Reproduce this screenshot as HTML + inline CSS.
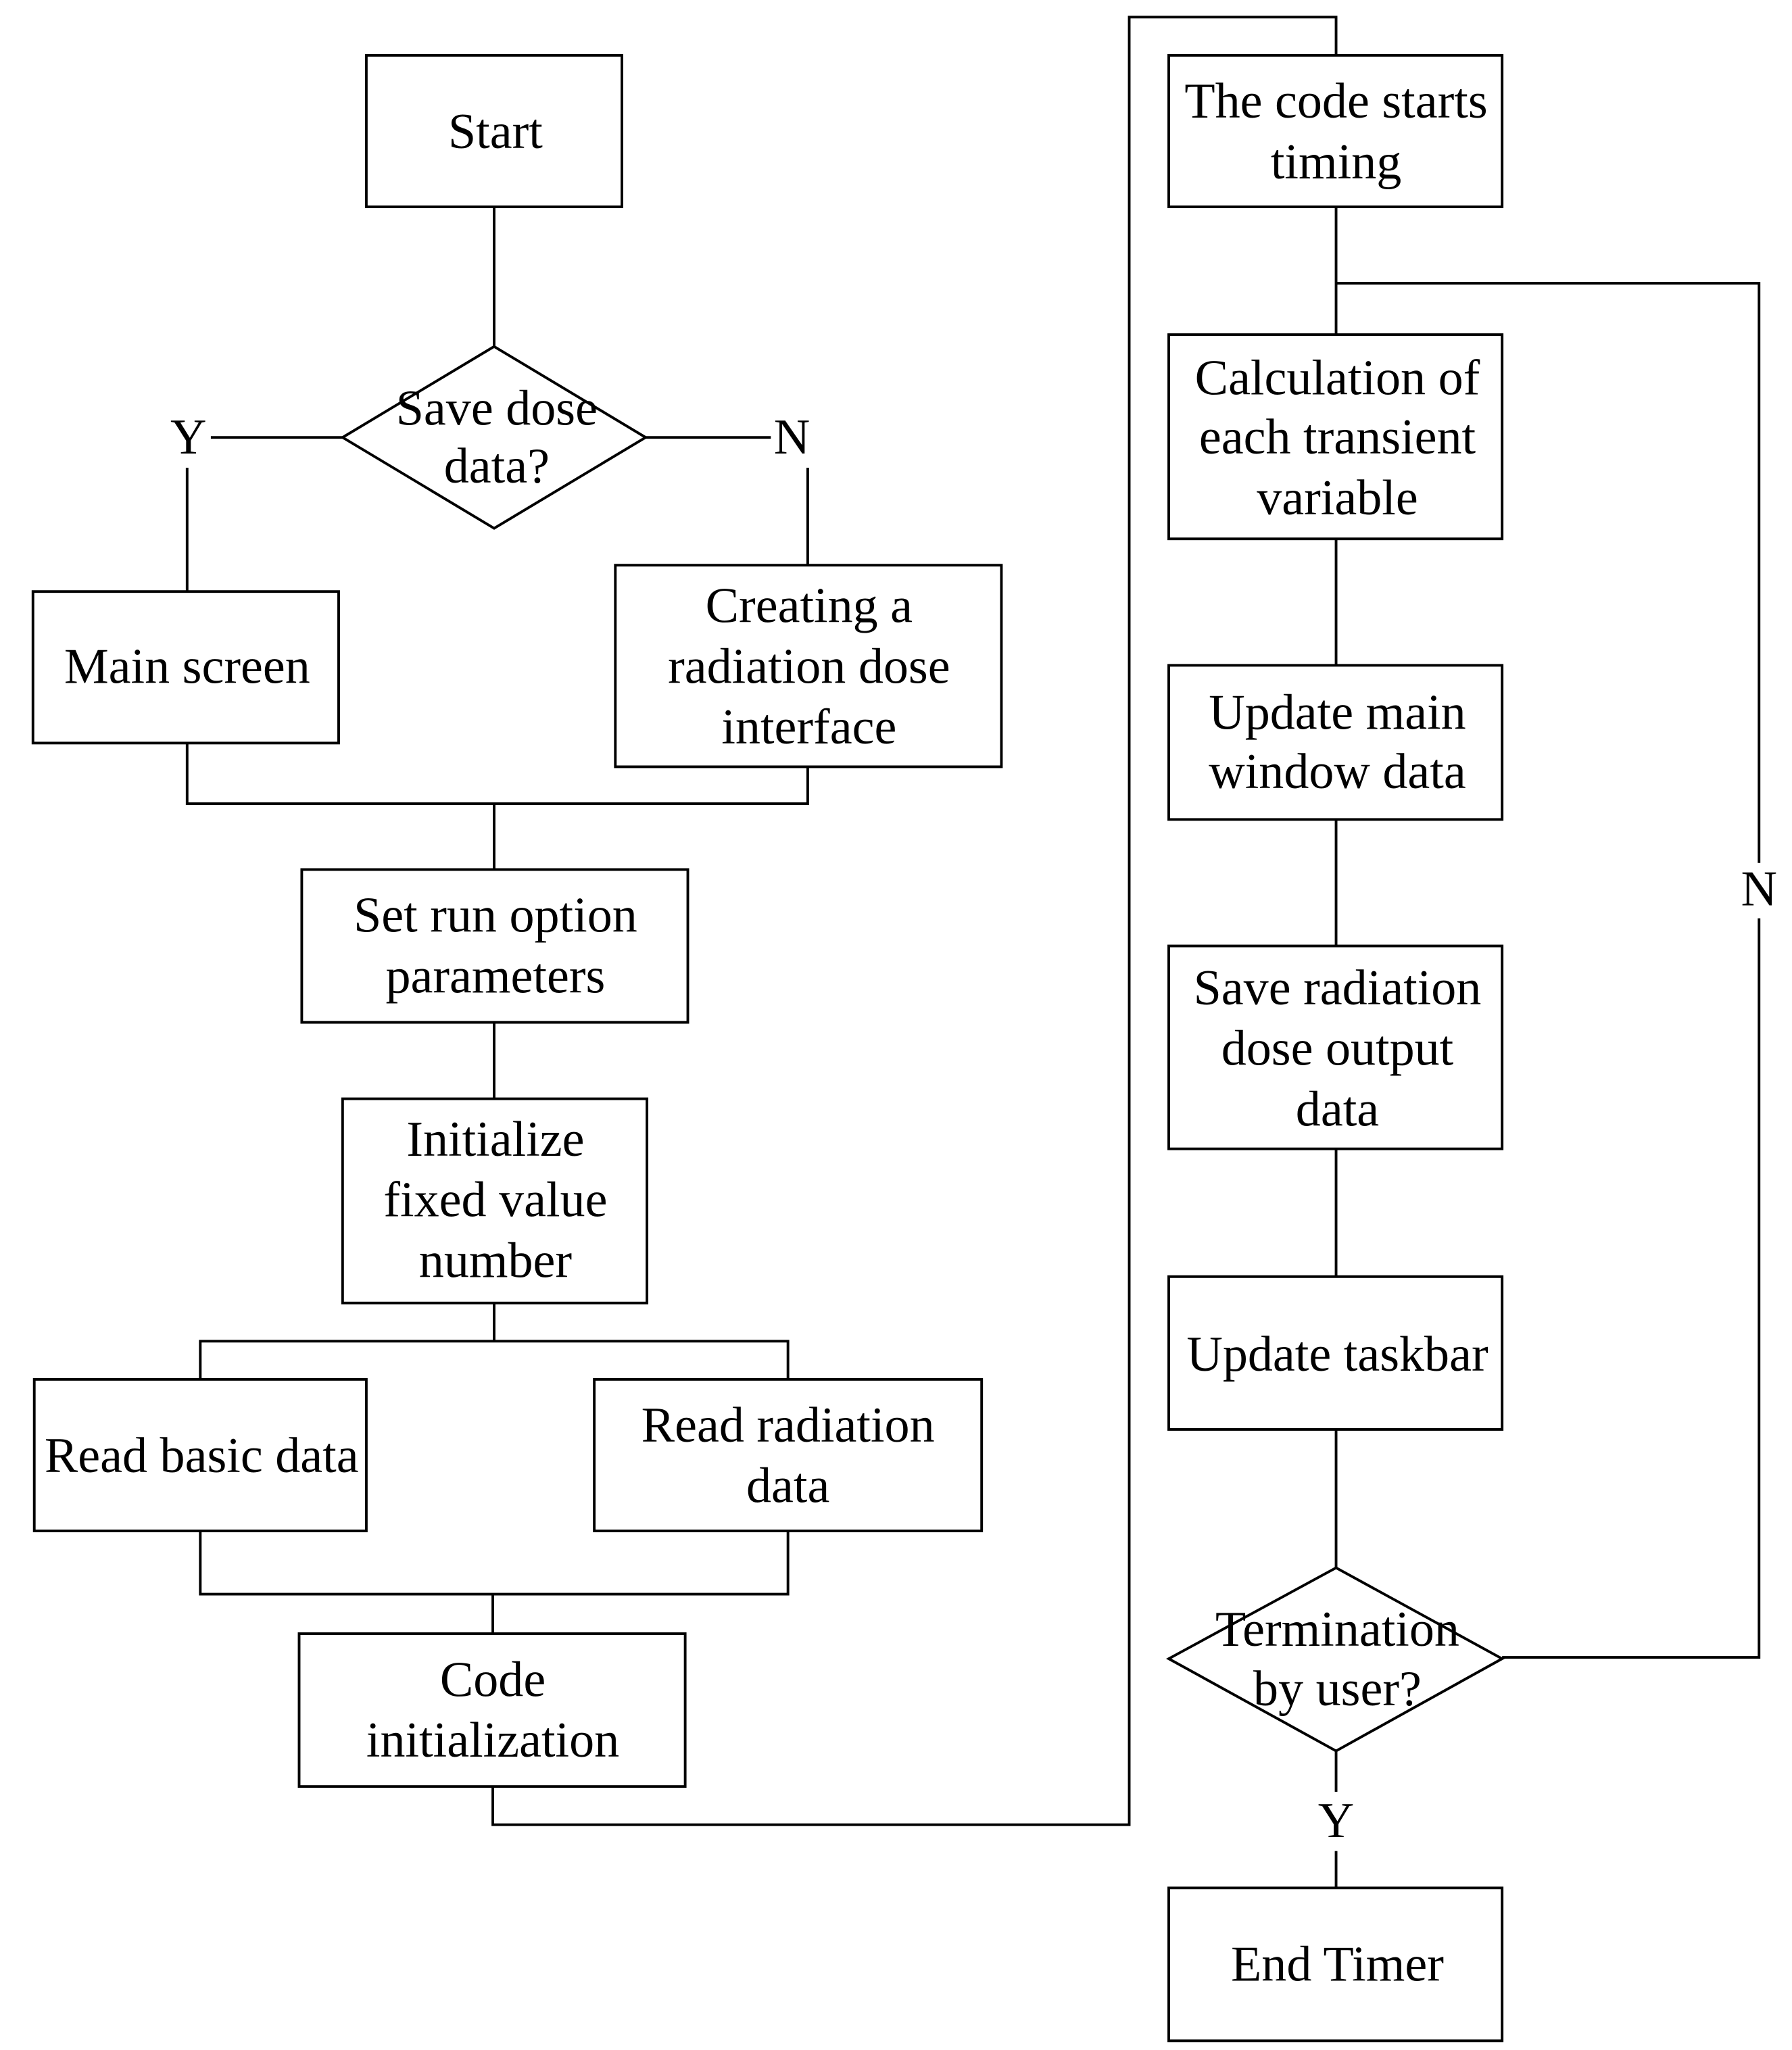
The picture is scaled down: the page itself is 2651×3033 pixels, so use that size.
<!DOCTYPE html>
<html><head><meta charset="utf-8"><style>
html,body{margin:0;padding:0;background:#fff;}
svg{display:block;}
text{font-family:"Liberation Serif",serif;font-size:38px;fill:#000;text-anchor:middle;dominant-baseline:central;}
</style></head><body>
<svg width="2651" height="3033" viewBox="0 0 1360 1556" xmlns="http://www.w3.org/2000/svg">
<g fill="none" stroke="#000" stroke-width="2">
<rect x="278" y="42" width="194" height="115"/>
<polyline points="375,157 375,263"/>
<polygon points="375,263 490,332 375,401 260,332" fill="#fff"/>
<polyline points="260,332 160,332"/>
<polyline points="142,355 142,449"/>
<polyline points="490,332 585,332"/>
<polyline points="613,355 613,429"/>
<rect x="25" y="449" width="232" height="115"/>
<rect x="467" y="429" width="293" height="153"/>
<polyline points="142,564 142,610 613,610 613,582"/>
<polyline points="375,610 375,660"/>
<rect x="229" y="660" width="293" height="116"/>
<polyline points="375,776 375,834"/>
<rect x="260" y="834" width="231" height="155"/>
<polyline points="375,989 375,1018"/>
<polyline points="152,1047 152,1018 598,1018 598,1047"/>
<rect x="26" y="1047" width="252" height="115"/>
<rect x="451" y="1047" width="294" height="115"/>
<polyline points="152,1162 152,1210 598,1210 598,1162"/>
<polyline points="374,1210 374,1240"/>
<rect x="227" y="1240" width="293" height="116"/>
<polyline points="374,1356 374,1385 857,1385 857,13 1014,13 1014,42"/>
<rect x="887" y="42" width="253" height="115"/>
<polyline points="1014,157 1014,254"/>
<polyline points="1014,215 1335,215 1335,655"/>
<polyline points="1335,697 1335,1258 1140,1258"/>
<rect x="887" y="254" width="253" height="155"/>
<polyline points="1014,409 1014,505"/>
<rect x="887" y="505" width="253" height="117"/>
<polyline points="1014,622 1014,718"/>
<rect x="887" y="718" width="253" height="154"/>
<polyline points="1014,872 1014,969"/>
<rect x="887" y="969" width="253" height="116"/>
<polyline points="1014,1085 1014,1190"/>
<polygon points="1014,1190 1140,1259 1014,1329 887,1259"/>
<polyline points="1014,1329 1014,1360"/>
<polyline points="1014,1405 1014,1433"/>
<rect x="887" y="1433" width="253" height="116"/>
</g>
<text x="376" y="100">Start</text>
<text x="377" y="310">Save dose</text>
<text x="377" y="354">data?</text>
<text x="143" y="332">Y</text>
<text x="601" y="332">N</text>
<text x="142" y="506">Main screen</text>
<text x="614" y="460">Creating a</text>
<text x="614" y="506">radiation dose</text>
<text x="614" y="552">interface</text>
<text x="376" y="695">Set run option</text>
<text x="376" y="741">parameters</text>
<text x="376" y="865">Initialize</text>
<text x="376" y="911">fixed value</text>
<text x="376" y="957">number</text>
<text x="153" y="1105">Read basic data</text>
<text x="598" y="1082">Read radiation</text>
<text x="598" y="1128">data</text>
<text x="374" y="1275">Code</text>
<text x="374" y="1321">initialization</text>
<text x="1014" y="77">The code starts</text>
<text x="1014" y="123">timing</text>
<text x="1015" y="287">Calculation of</text>
<text x="1015" y="332">each transient</text>
<text x="1015" y="378">variable</text>
<text x="1015" y="541">Update main</text>
<text x="1015" y="586">window data</text>
<text x="1015" y="750">Save radiation</text>
<text x="1015" y="796">dose output</text>
<text x="1015" y="842">data</text>
<text x="1015" y="1028">Update taskbar</text>
<text x="1015" y="1237">Termination</text>
<text x="1015" y="1282">by user?</text>
<text x="1335" y="675">N</text>
<text x="1014" y="1382">Y</text>
<text x="1015" y="1491">End Timer</text>
</svg>
</body></html>
